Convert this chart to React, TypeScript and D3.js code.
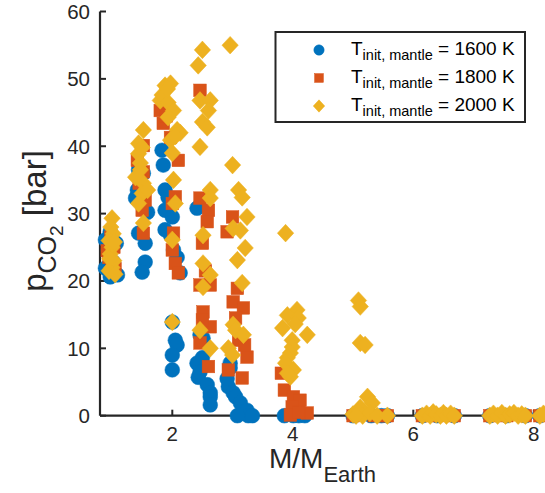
import React from "react";
import * as d3 from "d3";

// Planet mass (Earth masses) and CO2 partial pressure (bar) for each initial mantle temperature
const samples1600: [number, number][] = [
  [0.97, 20.6], [1.09, 20.9], [0.89, 21.9], [1.02, 22.8], [0.94, 24.6], [1.07, 25.6], [0.97, 27.3], [0.89, 26.1],
  [1.44, 36.5], [1.52, 36.0], [1.42, 33.5], [1.39, 32.3], [1.59, 30.2], [1.44, 27.1], [1.55, 25.6], [1.55, 22.8], [1.5, 21.3],
  [1.83, 39.4], [1.85, 37.2], [1.88, 33.5], [1.93, 32.4], [1.88, 30.5], [2.0, 29.5], [1.88, 27.6], [1.97, 26.8],
  [2.02, 24.6], [2.08, 23.5], [2.13, 21.2], [2.0, 13.9], [2.05, 11.2], [2.08, 10.5], [2.0, 9.0], [2.0, 6.8],
  [2.41, 30.8], [2.46, 12.0], [2.51, 11.5], [2.5, 8.6], [2.41, 7.8], [2.43, 5.7], [2.58, 4.6], [2.63, 3.4], [2.63, 2.8], [2.63, 1.6], [2.46, 6.5],
  [2.96, 7.8], [2.96, 7.1], [2.93, 4.3], [3.01, 3.4], [3.05, 2.8], [3.13, 1.9], [3.16, 0.4], [3.24, 0.8], [3.26, 0], [3.08, 0], [3.33, 0], [2.91, 5.5],
  [3.86, 0], [4.01, 0], [4.2, 0], [4.1, 0],
  [5.0, 0], [5.3, 0], [5.47, 0], [5.57, 0], [6.15, 0], [6.4, 0], [6.68, 0], [7.27, 0], [7.55, 0], [7.86, 0], [8.1, 0],
];

const samples1800: [number, number][] = [
  [1.0, 22.0], [0.95, 23.5], [1.03, 25.0], [0.98, 26.5], [1.05, 21.8], [0.92, 24.5],
  [1.52, 40.1], [1.42, 37.9], [1.52, 36.2], [1.55, 32.0], [1.5, 30.5], [1.52, 27.1], [1.45, 34.5],
  [1.8, 45.3], [1.85, 43.4], [1.97, 41.3], [2.1, 37.9], [2.0, 31.5], [2.02, 27.1], [2.0, 24.6], [2.05, 22.6], [2.1, 21.2], [1.9, 44.5], [2.05, 32.5],
  [2.46, 48.3], [2.46, 32.3], [2.6, 30.5], [2.58, 28.8], [2.5, 25.6], [2.46, 19.4], [2.63, 19.4], [2.51, 15.4], [2.63, 13.2], [2.46, 10.8], [2.6, 7.3], [2.55, 21.5], [2.5, 14.2],
  [3.0, 29.5], [2.91, 27.3], [3.08, 18.9], [3.01, 16.9], [3.18, 16.0], [3.1, 11.2], [3.24, 8.7], [2.93, 6.8], [3.16, 5.6], [3.05, 14.5], [3.2, 10.5],
  [3.81, 6.3], [3.86, 3.8], [4.01, 2.8], [4.12, 2.3], [3.99, 1.3], [4.24, 0.4], [3.96, 0.1], [4.1, 0.5],
  [5.0, 0], [5.35, 0], [5.47, 0], [5.57, 0], [6.15, 0], [6.4, 0], [6.68, 0], [7.27, 0], [7.55, 0], [7.86, 0], [8.1, 0],
];

const samples2000: [number, number][] = [
  [1.0, 29.3], [0.98, 28.0], [1.02, 27.0], [0.95, 26.0], [1.0, 25.0], [0.97, 24.0], [1.03, 23.0], [1.0, 22.0], [0.95, 21.5], [1.05, 21.0], [1.04, 25.8], [0.96, 23.3],
  [1.52, 42.4], [1.44, 40.4], [1.44, 38.9], [1.47, 37.5], [1.52, 34.5], [1.5, 33.0], [1.44, 31.5], [1.52, 28.6], [1.59, 33.5], [1.39, 35.4], [1.5, 39.8], [1.47, 36.5],
  [1.88, 49.0], [1.97, 49.3], [1.8, 46.8], [1.83, 47.6], [1.93, 46.5], [2.02, 45.3], [1.93, 44.3], [2.08, 42.4], [2.13, 42.0], [1.97, 40.9],
  [2.0, 39.0], [2.02, 35.0], [2.05, 31.5], [2.0, 26.1], [2.0, 13.9], [1.92, 48.5], [2.05, 41.5],
  [2.5, 54.3], [2.43, 52.0], [2.46, 46.8], [2.63, 46.8], [2.6, 45.3], [2.5, 43.6], [2.58, 42.8], [2.46, 39.9], [2.63, 33.5], [2.63, 32.3],
  [2.51, 26.8], [2.51, 22.6], [2.63, 20.9], [2.51, 19.1], [2.46, 12.7], [2.63, 10.0],
  [2.96, 55.0], [3.0, 37.2], [3.1, 33.5], [3.16, 32.4], [3.24, 29.5], [3.01, 27.8], [3.13, 27.5], [3.21, 24.9], [3.08, 23.1], [3.16, 19.7],
  [3.01, 13.5], [3.05, 12.7], [3.18, 12.0], [2.93, 10.0], [3.0, 9.0],
  [3.88, 27.1], [4.07, 15.7], [3.91, 14.9], [4.09, 14.5], [4.04, 13.6], [3.83, 13.0], [4.24, 12.0], [3.99, 11.2], [3.99, 10.2], [3.96, 9.3],
  [3.91, 8.6], [3.88, 7.8], [4.01, 6.8], [3.96, 5.8], [3.91, 6.3],
  [5.09, 17.1], [5.12, 16.2], [5.12, 10.8], [5.2, 10.5], [5.24, 2.8], [5.32, 1.9], [5.12, 1.2], [5.0, 0.2], [5.08, 0.5], [5.16, 0], [5.28, 0.4], [5.4, 0], [5.57, 0], [5.05, 0],
  [6.15, 0], [6.22, 0.3], [6.28, 0], [6.33, 0.5], [6.38, 0.2], [6.45, 0], [6.5, 0.4], [6.55, 0], [6.62, 0.3], [6.68, 0],
  [7.27, 0], [7.33, 0.3], [7.4, 0], [7.47, 0.4], [7.53, 0], [7.6, 0.2], [7.67, 0.4], [7.74, 0], [7.8, 0.2], [7.86, 0], [8.1, 0], [8.16, 0.3],
];

const xTicks = [2, 4, 6, 8];
const yTicks = [0, 10, 20, 30, 40, 50, 60];
const legendTemps = ["1600", "1800", "2000"];

type Shape = "circle" | "square" | "diamond";
const series: { temp: string; color: string; shape: Shape; data: [number, number][] }[] = [
  { temp: legendTemps[0], color: "#0072BD", shape: "circle", data: samples1600 },
  { temp: legendTemps[1], color: "#D95319", shape: "square", data: samples1800 },
  { temp: legendTemps[2], color: "#EDB120", shape: "diamond", data: samples2000 },
];

const W = 545;
const H = 493;
const axisColor = "#262626";
const font = "'Liberation Sans', Arial, Helvetica, sans-serif";

function Marker({ shape, cx, cy, color, s }: { shape: Shape; cx: number; cy: number; color: string; s: number }) {
  if (shape === "circle") {
    return <circle cx={cx} cy={cy} r={7.4 * s} fill={color} stroke={color} strokeWidth={0.5} />;
  }
  if (shape === "square") {
    const h = 6.3 * s;
    return <rect x={cx - h} y={cy - h} width={2 * h} height={2 * h} fill={color} stroke={color} strokeWidth={0.5} />;
  }
  const w = 8.2 * s;
  const h = 8.8 * s;
  return (
    <path
      d={`M${cx},${cy - h}L${cx + w},${cy}L${cx},${cy + h}L${cx - w},${cy}Z`}
      fill={color}
      stroke={color}
      strokeWidth={0.5}
    />
  );
}

export default function App() {
  const x = d3.scaleLinear().domain([0.8, 8.2]).range([100, 545.85]);
  const y = d3.scaleLinear().domain([0, 60]).range([415.7, 11.5]);
  const [x0] = x.range();
  const y0 = y(0);

  return (
    <svg
      width={W}
      height={H}
      viewBox={`0 0 ${W} ${H}`}
      style={{ position: "absolute", left: 0, top: 0, background: "#fff" }}
      fontFamily={font}
    >
      <rect width={W} height={H} fill="#fff" />

      {/* axes */}
      <line x1={x0} y1={y(60)} x2={x0} y2={y0} stroke={axisColor} strokeWidth={2.2} />
      <line x1={x0} y1={y0} x2={W + 2} y2={y0} stroke={axisColor} strokeWidth={2.2} />
      {yTicks.map((t) => (
        <g key={`y${t}`}>
          <line x1={x0} x2={x0 + 6} y1={y(t)} y2={y(t)} stroke={axisColor} strokeWidth={2} />
          <text x={90} y={y(t)} dy="0.36em" textAnchor="end" fontSize={20.5} fill={axisColor}>
            {t}
          </text>
        </g>
      ))}
      {xTicks.map((t) => (
        <g key={`x${t}`}>
          <line x1={x(t)} x2={x(t)} y1={y0} y2={y0 - 6} stroke={axisColor} strokeWidth={2} />
          <text x={x(t)} y={440.5} textAnchor="middle" fontSize={20.5} fill={axisColor}>
            {t}
          </text>
        </g>
      ))}

      {/* axis labels */}
      <text x={322.5} y={468} textAnchor="middle" fontSize={28} fill={axisColor}>
        M/M
        <tspan dy={14} fontSize={22}>
          Earth
        </tspan>
      </text>
      <text transform="translate(46,221) rotate(-90)" textAnchor="middle" fontSize={33} fill={axisColor}>
        p
        <tspan dy={10} fontSize={25}>
          CO
        </tspan>
        <tspan dy={7} fontSize={19}>
          2
        </tspan>
        <tspan dy={-17} fontSize={33}>
          {" [bar]"}
        </tspan>
      </text>

      {/* data */}
      {series.map((sr) => (
        <g key={sr.temp}>
          {sr.data.map(([m, p], i) => (
            <Marker key={i} shape={sr.shape} cx={x(m)} cy={y(p)} color={sr.color} s={1} />
          ))}
        </g>
      ))}

      {/* legend */}
      <rect x={275.5} y={32} width={249.5} height={90} fill="#fff" stroke={axisColor} strokeWidth={2} />
      {series.map((sr, i) => {
        const cy = 50 + i * 28;
        return (
          <g key={`lg${sr.temp}`}>
            <Marker shape={sr.shape} cx={319} cy={cy} color={sr.color} s={0.7} />
            <text x={351} y={cy + 5} fontSize={19} fill="#000">
              T
              <tspan dy={5} fontSize={14.5}>
                init, mantle
              </tspan>
              <tspan dy={-5} fontSize={19}>
                {` = ${sr.temp} K`}
              </tspan>
            </text>
          </g>
        );
      })}
    </svg>
  );
}
